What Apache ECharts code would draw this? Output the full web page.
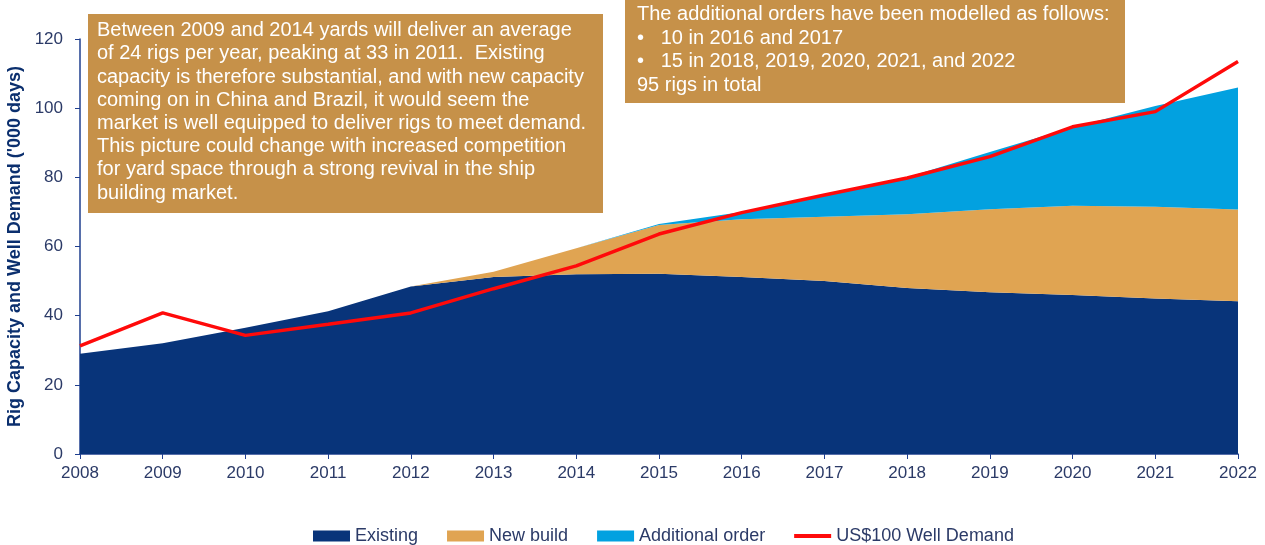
<!DOCTYPE html>
<html>
<head>
<meta charset="utf-8">
<script src="https://cdn.jsdelivr.net/npm/echarts@6/dist/echarts.min.js"></script>
<style>
  html, body { margin: 0; padding: 0; background: #fff; }
  #main { width: 1265px; height: 545px; }
</style>
</head>
<body>
<div id="main"></div>
<script>
// years on the x axis
var years = ['2008', '2009', '2010', '2011', '2012', '2013', '2014', '2015',
  '2016', '2017', '2018', '2019', '2020', '2021', '2022'];
// stacked capacity ('000 days)
var existing = [29, 32, 36.5, 41.3, 48.4, 51.2, 52, 52.1, 51.2, 50, 48, 46.8, 46, 45, 44.2];
var newBuild = [0, 0, 0, 0, 0, 1.5, 7.5, 14.1, 16.7, 18.6, 21.3, 24, 25.8, 26.5, 26.5];
var additional = [0, 0, 0, 0, 0, 0, 0, 0.3, 2.1, 6, 10.7, 16.5, 22.7, 29.1, 35.3];
// demand line
var demand = [31.3, 40.8, 34.3, 37.5, 40.8, 47.8, 54.4, 63.6, 69.8, 74.9, 79.8, 86, 94.6, 99, 113.5];

var yTicks = { min: 0, max: 120, interval: 20 };

var note1 = [
  'Between 2009 and 2014 yards will deliver an average',
  'of 24 rigs per year, peaking at 33 in 2011.  Existing',
  'capacity is therefore substantial, and with new capacity',
  'coming on in China and Brazil, it would seem the',
  'market is well equipped to deliver rigs to meet demand.',
  'This picture could change with increased competition',
  'for yard space through a strong revival in the ship',
  'building market.'
];
var note2 = [
  'The additional orders have been modelled as follows:',
  '•   10 in 2016 and 2017',
  '•   15 in 2018, 2019, 2020, 2021, and 2022',
  '95 rigs in total'
];

var navy = '#08347a';
var tan = '#e0a452';
var cyan = '#02a1e0';
var red = '#ff0a0a';
var boxColor = '#c69149';
var labelColor = '#2b3a67';
var font = 'Liberation Sans, Arial, sans-serif';

var chart = echarts.init(document.getElementById('main'));

function areaSeries(name, data, color) {
  return {
    name: name,
    type: 'line',
    stack: 'cap',
    data: data,
    symbol: 'none',
    lineStyle: { width: 0 },
    itemStyle: { color: color },
    areaStyle: { color: color, opacity: 1 }
  };
}

chart.setOption({
  animation: false,
  textStyle: { fontFamily: font },
  grid: { left: 80, right: 27, top: 39, bottom: 91, outerBoundsMode: 'none' },
  legend: {
    top: 527,
    left: 313,
    padding: 0,
    itemWidth: 37,
    itemHeight: 11,
    itemGap: 29,
    textStyle: { color: labelColor, fontSize: 18 },
    data: [
      { name: 'Existing', icon: 'rect' },
      { name: 'New build', icon: 'rect' },
      { name: 'Additional order', icon: 'rect' },
      { name: 'US$100 Well Demand', icon: 'path://M0,0H37V4H0Z' }
    ]
  },
  xAxis: {
    type: 'category',
    data: years,
    boundaryGap: false,
    axisLine: { lineStyle: { color: '#1f3f8f', width: 1.5 } },
    axisTick: { alignWithLabel: true, length: 5, lineStyle: { color: '#1f3f8f' } },
    axisLabel: { color: labelColor, fontSize: 17, margin: 11 }
  },
  yAxis: {
    type: 'value',
    min: yTicks.min,
    max: yTicks.max,
    interval: yTicks.interval,
    name: "Rig Capacity and Well Demand ('000 days)",
    nameLocation: 'middle',
    nameGap: 53,
    nameTextStyle: { color: '#0b2f6e', fontSize: 18, fontWeight: 'bold' },
    splitLine: { show: false },
    axisLine: { show: true, lineStyle: { color: '#1f3f8f', width: 1.5 } },
    axisTick: { show: true, length: 5, lineStyle: { color: '#1f3f8f' } },
    axisLabel: { color: labelColor, fontSize: 17, margin: 17 }
  },
  series: [
    areaSeries('Existing', existing, navy),
    areaSeries('New build', newBuild, tan),
    areaSeries('Additional order', additional, cyan),
    {
      name: 'US$100 Well Demand',
      type: 'line',
      data: demand,
      symbol: 'none',
      z: 5,
      lineStyle: { color: red, width: 3.5 },
      itemStyle: { color: red }
    }
  ],
  graphic: [
    {
      type: 'group',
      left: 88,
      top: 14,
      children: [
        { type: 'rect', shape: { x: 0, y: 0, width: 515, height: 199 }, style: { fill: boxColor } },
        { type: 'text', x: 9, y: 5, style: { text: note1.join('\n'), fill: '#fff', font: '20px ' + font, lineHeight: 23.2 } }
      ]
    },
    {
      type: 'group',
      left: 625,
      top: 0,
      children: [
        { type: 'rect', shape: { x: 0, y: 0, width: 500, height: 103 }, style: { fill: boxColor } },
        { type: 'text', x: 12, y: 3, style: { text: note2.join('\n'), fill: '#fff', font: '20px ' + font, lineHeight: 23.5 } }
      ]
    }
  ]
});
</script>
</body>
</html>
